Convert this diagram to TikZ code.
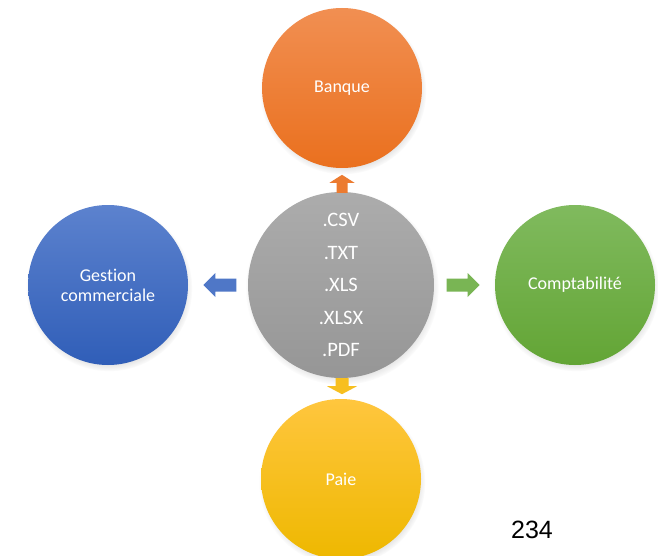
\documentclass[tikz,border=0pt]{standalone}
\usepackage{fontspec}
\setmainfont{Carlito}[Ligatures=NoCommon]
\newfontfamily\numfont{Liberation Sans}
\usetikzlibrary{shadows,calc}
\definecolor{orT}{RGB}{241,143,82}
\definecolor{orB}{RGB}{234,112,30}
\definecolor{blT}{RGB}{92,130,206}
\definecolor{blB}{RGB}{48,94,184}
\definecolor{grT}{RGB}{128,186,94}
\definecolor{grB}{RGB}{99,165,53}
\definecolor{yeT}{RGB}{255,198,62}
\definecolor{yeB}{RGB}{238,184,0}
\definecolor{gyT}{RGB}{172,172,172}
\definecolor{gyB}{RGB}{150,150,150}
\tikzset{
  bubble/.style={circle, minimum size=160pt, inner sep=0pt, text=white,
    font=\fontsize{18}{20}\selectfont, align=center,
    circular drop shadow={shadow scale=1.04, opacity=0.35, shadow xshift=1pt, shadow yshift=-3pt}},
  hub/.style={bubble, minimum size=186pt, font=\fontsize{20.5}{32.5}\selectfont}
}
% #1 centre, #2 rotation, #3 length, #4 head length, #5 head half width, #6 shaft half width, #7 colour
\newcommand\blockarr[7]{%
  \fill[#7, shift={(#1)}, rotate=#2]
    (-#3/2,-#6) -- (#3/2-#4,-#6) -- (#3/2-#4,-#5) -- (#3/2,0)
    -- (#3/2-#4,#5) -- (#3/2-#4,#6) -- (-#3/2,#6) -- cycle;}
\begin{document}
\begin{tikzpicture}[x=1pt,y=-1pt]
\useasboundingbox (0,0) rectangle (658,556);
\clip (0,0) rectangle (658,556);
\fill[white] (0,0) rectangle (658,556);
\node[bubble, top color=orT, bottom color=orB] (banque) at (342,88) {Banque};
\node[bubble, top color=blT, bottom color=blB] (gestion) at (108,285) {Gestion\\commerciale};
\node[bubble, top color=grT, bottom color=grB] (compta) at (575,285) {Comptabilité};
\node[bubble, top color=yeT, bottom color=yeB] (paie) at (341,479) {Paie};
\node[hub, top color=gyT, bottom color=gyB] (hub) at (341,285) {.CSV\\.TXT\\.XLS\\.XLSX\\.PDF};
% block arrows between hub and outer circles
\coordinate (aup) at ($(hub.north)+(1,-8)$);
\coordinate (aleft) at ($(hub.west)+(-28,0)$);
\coordinate (aright) at ($(hub.east)+(29,0)$);
\coordinate (adown) at ($(hub.south)+(1,8)$);
\blockarr{aup}{90}{18}{8}{12.5}{5.5}{orB!92!white}
\blockarr{aleft}{180}{33}{12}{12}{6.5}{blT!70!blB}
\blockarr{aright}{0}{33}{12}{12}{6.5}{grT!75!grB}
\blockarr{adown}{-90}{16}{8}{15}{6.5}{yeT!50!yeB}
\node[font=\numfont\fontsize{25}{25}\selectfont, text=black, inner sep=0pt] (page) at (532,530) {234};
\end{tikzpicture}
\end{document}
